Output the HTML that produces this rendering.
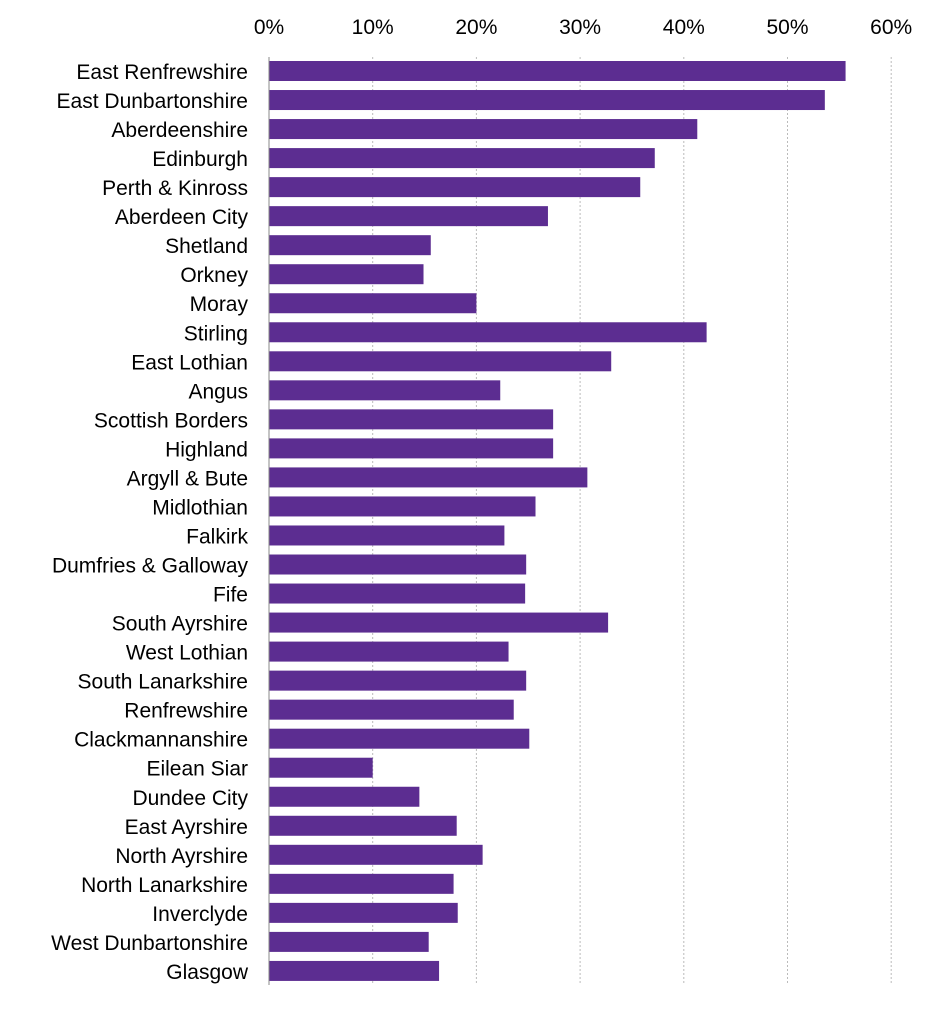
<!DOCTYPE html>
<html><head><meta charset="utf-8"><style>
body{margin:0;background:#fff;}
svg text{font-family:"Liberation Sans",Arial,sans-serif;font-size:21px;fill:#000;}
</style></head><body>
<svg width="939" height="1009">
<g id="grid"></g><g id="bars"></g><g id="labels"></g><g id="ticks"></g>
<line x1="269" y1="57" x2="269" y2="985" stroke="#888" stroke-width="1"/>
</svg>
<script>
const categories=["East Renfrewshire","East Dunbartonshire","Aberdeenshire","Edinburgh","Perth & Kinross","Aberdeen City","Shetland","Orkney","Moray","Stirling","East Lothian","Angus","Scottish Borders","Highland","Argyll & Bute","Midlothian","Falkirk","Dumfries & Galloway","Fife","South Ayrshire","West Lothian","South Lanarkshire","Renfrewshire","Clackmannanshire","Eilean Siar","Dundee City","East Ayrshire","North Ayrshire","North Lanarkshire","Inverclyde","West Dunbartonshire","Glasgow"];
const values=[55.6,53.6,41.3,37.2,35.8,26.9,15.6,14.9,20.0,42.2,33.0,22.3,27.4,27.4,30.7,25.7,22.7,24.8,24.7,32.7,23.1,24.8,23.6,25.1,10.0,14.5,18.1,20.6,17.8,18.2,15.4,16.4];
const tickValues=[0,10,20,30,40,50,60];
const tickLabels=["0%","10%","20%","30%","40%","50%","60%"];
const NS="http://www.w3.org/2000/svg";
const x=v=>269+v*10.37;
const y=i=>71+i*29.03;
function mk(t,a,p){const e=document.createElementNS(NS,t);for(const k in a)e.setAttribute(k,a[k]);document.getElementById(p).appendChild(e);return e;}
tickValues.forEach((v,i)=>{
 if(v>0){const g=mk('line',{x1:x(v),x2:x(v),y1:57,y2:985,stroke:'#bbb','stroke-dasharray':'2,2'},'grid');
 
 }
 const t=mk('text',{x:x(v),y:34,'text-anchor':'middle'},'ticks');t.textContent=tickLabels[i];
 
 
});
categories.forEach((c,i)=>{
 const r=mk('rect',{x:269,y:y(i)-10,width:x(values[i])-269,height:20,fill:'#5c2d91'},'bars');
 
 
 const t=mk('text',{x:248,y:y(i)+8,'text-anchor':'end'},'labels');t.textContent=c;
 
 
});
</script>
</body></html>
